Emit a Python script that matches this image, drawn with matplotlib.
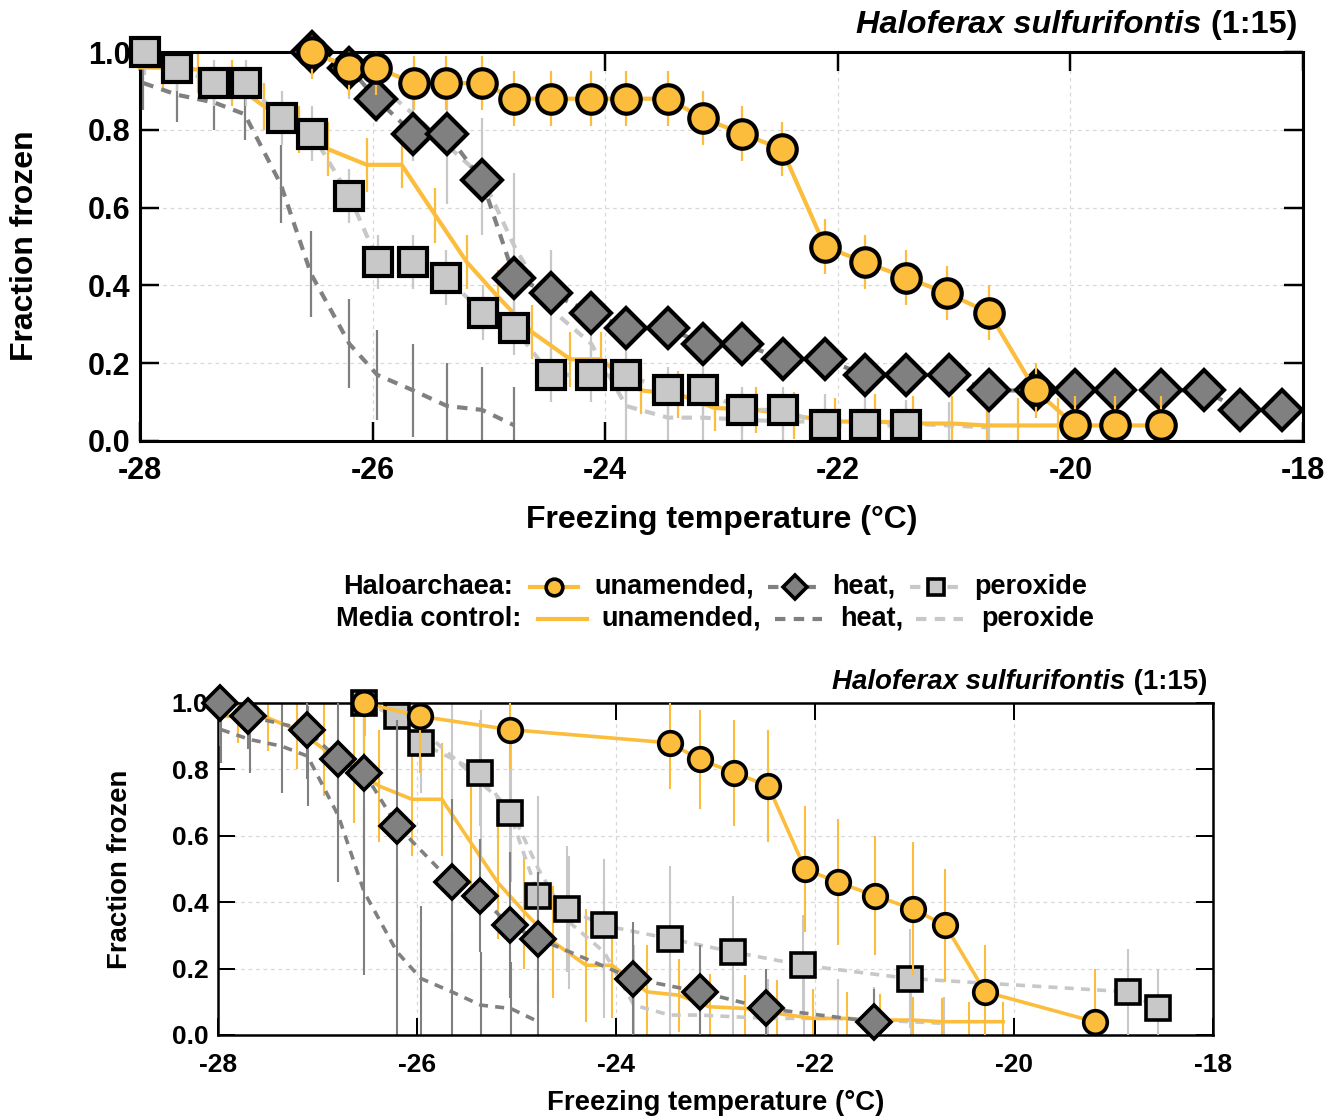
import numpy as np
import matplotlib
matplotlib.use('Agg')
import matplotlib.pyplot as plt

plt.rcParams['font.family'] = ['Liberation Sans', 'DejaVu Sans']
plt.rcParams['font.weight'] = 'bold'
plt.rcParams['axes.unicode_minus'] = False

ORANGE = '#fbbd3b'
DARK = '#808080'
LIGHT = '#c8c8c8'

# ---------------- media controls (same in both panels) ----------------
mc_unam_T = [-28.00, -27.80, -27.50, -27.21, -26.93, -26.63, -26.38, -26.05, -25.75, -25.46, -25.19, -24.92, -24.63, -24.30,
             -24.04, -23.69, -23.37, -23.06, -22.70, -22.38, -22.02, -21.68, -21.35, -21.02, -20.72, -20.45, -20.11]
mc_unam_f = [0.96, 0.96, 0.955, 0.92, 0.86, 0.80, 0.75, 0.71, 0.71, 0.58, 0.46, 0.37, 0.28, 0.21,
             0.21, 0.13, 0.12, 0.085, 0.08, 0.065, 0.05, 0.05, 0.045, 0.045, 0.04, 0.04, 0.04]
mc_unam_err_top = [0.0, 0.06, 0.06, 0.06, 0.06, 0.06, 0.07, 0.07, 0.06, 0.07, 0.07, 0.07, 0.07, 0.07,
                   0.07, 0.06, 0.06, 0.06, 0.06, 0.06, 0.06, 0.07, 0.07, 0.07, 0.07, 0.07, 0.07]
mc_unam_err_bot = [0.0, 0.08, 0.10, 0.12, 0.14, 0.16, 0.17, 0.17, 0.17, 0.17, 0.17, 0.17, 0.17, 0.17,
                   0.16, 0.14, 0.11, 0.10, 0.10, 0.10, 0.09, 0.08, 0.08, 0.07, 0.07, 0.06, 0.06]

mc_heat_T = [-27.97, -27.68, -27.36, -27.10, -26.79, -26.53, -26.20, -25.96, -25.65, -25.36, -25.06, -24.78]
mc_heat_f = [0.92, 0.89, 0.87, 0.84, 0.66, 0.43, 0.25, 0.17, 0.13, 0.09, 0.08, 0.04]
mc_heat_err_top = [0.07, 0.07, 0.07, 0.065, 0.10, 0.11, 0.115, 0.115, 0.12, 0.11, 0.11, 0.10]
mc_heat_err_bot = [0.10, 0.10, 0.14, 0.15, 0.20, 0.25, 0.25, 0.22, 0.18, 0.16, 0.14, 0.12]

mc_perox_T = [-26.52, -26.20, -25.96, -25.65, -25.36, -25.06, -24.78, -24.47, -24.12, -23.82, -23.46, -23.16,
              -22.82, -22.47, -22.11, -21.77, -21.41, -21.04, -20.70]
mc_perox_f = [1.00, 0.96, 0.92, 0.84, 0.76, 0.68, 0.50, 0.34, 0.25, 0.09, 0.06, 0.06,
              0.055, 0.05, 0.05, 0.05, 0.045, 0.04, 0.035]
mc_perox_err_top = [0.05, 0.08, 0.10, 0.12, 0.15, 0.15, 0.19, 0.15, 0.12, 0.10, 0.08, 0.08,
                    0.07, 0.07, 0.07, 0.07, 0.06, 0.06, 0.05]
mc_perox_err_bot = [0.10, 0.15, 0.18, 0.20, 0.22, 0.22, 0.22, 0.20, 0.20, 0.18, 0.15, 0.12,
                    0.12, 0.12, 0.12, 0.12, 0.10, 0.10, 0.08]

# ---------------- top panel, haloarchaea ----------------
top_unam_T = [-26.52, -26.20, -25.97, -25.64, -25.37, -25.06, -24.78, -24.47, -24.12, -23.82, -23.46, -23.16,
              -22.82, -22.48, -22.11, -21.77, -21.41, -21.06, -20.70, -20.30, -19.96, -19.62, -19.22]
top_unam_f = [1.00, 0.96, 0.96, 0.92, 0.92, 0.92, 0.88, 0.88, 0.88, 0.88, 0.88, 0.83,
              0.79, 0.75, 0.50, 0.46, 0.42, 0.38, 0.33, 0.13, 0.04, 0.04, 0.04]
top_unam_err = [0.07, 0.07, 0.07, 0.07, 0.07, 0.07, 0.07, 0.07, 0.07, 0.07, 0.07, 0.07,
                0.07, 0.07, 0.07, 0.07, 0.07, 0.07, 0.07, 0.07, 0.075, 0.075, 0.075]

top_heat_T = [-26.52, -26.20, -25.97, -25.65, -25.36, -25.06, -24.78, -24.47, -24.12, -23.82, -23.46, -23.16,
              -22.82, -22.47, -22.11, -21.77, -21.41, -21.04, -20.70, -20.30, -19.96, -19.62, -19.22, -18.85,
              -18.54, -18.18]
top_heat_f = [1.00, 0.96, 0.88, 0.79, 0.79, 0.67, 0.42, 0.38, 0.33, 0.29, 0.29, 0.25,
              0.25, 0.21, 0.21, 0.17, 0.17, 0.17, 0.13, 0.13, 0.13, 0.13, 0.13, 0.13,
              0.08, 0.08]
top_heat_err = [0.03, 0.03, 0.04, 0.04, 0.04, 0.04, 0.04, 0.04, 0.04, 0.04, 0.04, 0.04,
                0.04, 0.04, 0.04, 0.04, 0.04, 0.04, 0.04, 0.04, 0.04, 0.04, 0.04, 0.04,
                0.04, 0.04]

top_perox_T = [-27.96, -27.68, -27.36, -27.09, -26.78, -26.52, -26.20, -25.95, -25.65, -25.37, -25.05,
               -24.78, -24.47, -24.12, -23.82, -23.46, -23.16, -22.82, -22.47, -22.11, -21.77, -21.41]
top_perox_f = [1.00, 0.96, 0.92, 0.92, 0.83, 0.79, 0.63, 0.46, 0.46, 0.42, 0.33,
               0.29, 0.17, 0.17, 0.17, 0.13, 0.13, 0.08, 0.08, 0.04, 0.04, 0.04]
top_perox_err = [0.06, 0.06, 0.06, 0.06, 0.07, 0.07, 0.07, 0.07, 0.07, 0.07, 0.07,
                 0.07, 0.07, 0.07, 0.07, 0.06, 0.06, 0.06, 0.06, 0.05, 0.05, 0.05]

# ---------------- bottom panel, haloarchaea ----------------
bot_unam_T = [-26.53, -25.97, -25.07, -23.46, -23.16, -22.81, -22.47, -22.10, -21.77, -21.40, -21.02, -20.69,
              -20.29, -19.19]
bot_unam_f = [1.00, 0.96, 0.92, 0.88, 0.83, 0.79, 0.75, 0.50, 0.46, 0.42, 0.38, 0.33, 0.13, 0.04]
bot_unam_err = [0.15, 0.17, 0.12, 0.14, 0.15, 0.16, 0.17, 0.19, 0.19, 0.18, 0.20, 0.17, 0.14, 0.16]

bot_heat_T = [-27.98, -27.70, -27.11, -26.79, -26.53, -26.20, -25.65, -25.37, -25.07, -24.78, -23.83, -23.16,
              -22.49, -21.41]
bot_heat_f = [1.00, 0.96, 0.92, 0.83, 0.79, 0.63, 0.46, 0.42, 0.33, 0.29, 0.17, 0.13, 0.08, 0.04]
bot_heat_err = [0.13, 0.10, 0.15, 0.22, 0.28, 0.32, 0.25, 0.17, 0.22, 0.20, 0.17, 0.14, 0.12, 0.10]

bot_perox_T = [-26.53, -26.20, -25.96, -25.37, -25.07, -24.78, -24.49, -24.12, -23.46, -22.82, -22.12, -21.05,
               -18.85, -18.55]
bot_perox_f = [1.00, 0.96, 0.88, 0.79, 0.67, 0.42, 0.38, 0.33, 0.29, 0.25, 0.21, 0.17, 0.13, 0.08]
bot_perox_err = [0.12, 0.14, 0.15, 0.16, 0.17, 0.18, 0.19, 0.20, 0.22, 0.17, 0.15, 0.15, 0.13, 0.12]

x_ticks = [-28, -26, -24, -22, -20, -18]
y_ticks = [0.0, 0.2, 0.4, 0.6, 0.8, 1.0]
y_ticklabels = ['0.0', '0.2', '0.4', '0.6', '0.8', '1.0']

W, H = 1340, 1120
fig = plt.figure(figsize=(13.4, 11.2), dpi=100)
ax1 = fig.add_axes([140 / W, 1 - 441 / H, (1303 - 140) / W, (441 - 52) / H])
ax2 = fig.add_axes([218 / W, 1 - 1035 / H, (1213 - 218) / W, (1035 - 703) / H])


def style_axes(ax, fs, tlen, sw, padx, pady):
    ax.set_xlim(-28, -18)
    ax.set_ylim(0, 1)
    ax.set_xticks(x_ticks)
    ax.set_yticks(y_ticks)
    ax.set_yticklabels(y_ticklabels)
    ax.tick_params(direction='in', top=True, right=True, length=tlen, width=sw * 0.8, labelsize=fs)
    ax.tick_params(axis='x', pad=padx)
    ax.tick_params(axis='y', pad=pady)
    for s in ax.spines.values():
        s.set_linewidth(sw)
    ax.grid(True, color='#d8d8d8', lw=0.9, ls=(0, (3, 3)))
    ax.set_axisbelow(True)


def draw(ax, T, f, err, color, dashed, lw, elw, z, marker=None, mfc=None, ms=0, mew=0):
    ax.errorbar(T, f, yerr=err, fmt='none', ecolor=color, elinewidth=elw, capsize=0, zorder=z)
    ls = (0, (2.5, 2)) if dashed else '-'
    ax.plot(T, f, color=color, ls=ls, lw=lw, marker=marker, ms=ms, mfc=mfc, mec='black', mew=mew,
            zorder=z + 0.5, clip_on=False)


def panel(ax, halo, mc_err, lw, elw, ms_c, ms_s, ms_d, mew):
    (uT, uf, ue), (hT, hf, he), (pT, pf, pe) = halo
    draw(ax, mc_perox_T, mc_perox_f, mc_err[2], LIGHT, True, lw, elw, 2)
    draw(ax, mc_heat_T, mc_heat_f, mc_err[1], DARK, True, lw, elw, 2.1)
    draw(ax, mc_unam_T, mc_unam_f, mc_err[0], ORANGE, False, lw, elw, 2.2)
    draw(ax, pT, pf, pe, LIGHT, True, lw, elw, 3, 's', LIGHT, ms_s, mew)
    draw(ax, hT, hf, he, DARK, True, lw, elw, 4, 'D', DARK, ms_d, mew)
    draw(ax, uT, uf, ue, ORANGE, False, lw, elw, 5, 'o', ORANGE, ms_c, mew)


style_axes(ax1, 22, 14, 2.2, 11, 7)
panel(ax1,
      [(top_unam_T, top_unam_f, top_unam_err), (top_heat_T, top_heat_f, top_heat_err),
       (top_perox_T, top_perox_f, top_perox_err)],
      [mc_unam_err_top, mc_heat_err_top, mc_perox_err_top], 3.0, 1.6, 20.5, 20.5, 20.5, 3.0)

style_axes(ax2, 19, 12, 1.8, 13, 7)
panel(ax2,
      [(bot_unam_T, bot_unam_f, bot_unam_err), (bot_heat_T, bot_heat_f, bot_heat_err),
       (bot_perox_T, bot_perox_f, bot_perox_err)],
      [mc_unam_err_bot, mc_heat_err_bot, mc_perox_err_bot], 2.6, 1.5, 17, 17, 17, 2.6)

# axis labels
fig.text(721.5 / W, 1 - 520 / H, 'Freezing temperature (°C)', ha='center', va='center', fontsize=23)
fig.text(25 / W, 1 - 246 / H, 'Fraction frozen', ha='center', va='center', rotation=90, fontsize=23)
fig.text(715.5 / W, 1 - 1103 / H, 'Freezing temperature (°C)', ha='center', va='center', fontsize=19.8)
fig.text(120 / W, 1 - 869 / H, 'Fraction frozen', ha='center', va='center', rotation=90, fontsize=19.8)

# titles: italic species name + upright ratio
renderer = fig.canvas.get_renderer()
for xr, yc, fs in [(1297, 25, 23.4), (1207, 682, 19.9)]:
    t2 = fig.text(xr / W, 1 - yc / H, ' (1:15)', ha='right', va='center', fontsize=fs)
    x0 = t2.get_window_extent(renderer).x0
    fig.text(x0 / W, 1 - yc / H, 'Haloferax sulfurifontis', ha='right', va='center', fontsize=fs,
             style='italic')

# legend block between panels
lg = fig.add_axes([0, 0, 1, 1])
lg.set_xlim(0, W)
lg.set_ylim(H, 0)
lg.axis('off')
LFS = 19.5
r1, r2 = 587, 619
lg.text(343, r1, 'Haloarchaea:', ha='left', va='center', fontsize=LFS)
lg.plot([530, 578], [r1, r1], color=ORANGE, lw=3)
lg.plot([554], [r1], marker='o', ms=12, mfc=ORANGE, mec='black', mew=2.6)
lg.text(594, r1, 'unamended,', ha='left', va='center', fontsize=LFS)
lg.plot([768, 822], [r1, r1], color=DARK, lw=3, ls=(0, (2.5, 2)))
lg.plot([795], [r1], marker='D', ms=12, mfc=DARK, mec='black', mew=2.6)
lg.text(832, r1, 'heat,', ha='left', va='center', fontsize=LFS)
lg.plot([910, 962], [r1, r1], color=LIGHT, lw=3, ls=(0, (2.5, 2)))
lg.plot([936], [r1], marker='s', ms=12, mfc=LIGHT, mec='black', mew=2.6)
lg.text(974, r1, 'peroxide', ha='left', va='center', fontsize=LFS)

lg.text(336, r2, 'Media control:', ha='left', va='center', fontsize=LFS)
lg.plot([538, 587], [r2, r2], color=ORANGE, lw=3)
lg.text(601, r2, 'unamended,', ha='left', va='center', fontsize=LFS)
lg.plot([775, 822], [r2, r2], color=DARK, lw=3, ls=(0, (2.5, 2)))
lg.text(840, r2, 'heat,', ha='left', va='center', fontsize=LFS)
lg.plot([916, 963], [r2, r2], color=LIGHT, lw=3, ls=(0, (2.5, 2)))
lg.text(981, r2, 'peroxide', ha='left', va='center', fontsize=LFS)

fig.savefig('out.png', dpi=100)
